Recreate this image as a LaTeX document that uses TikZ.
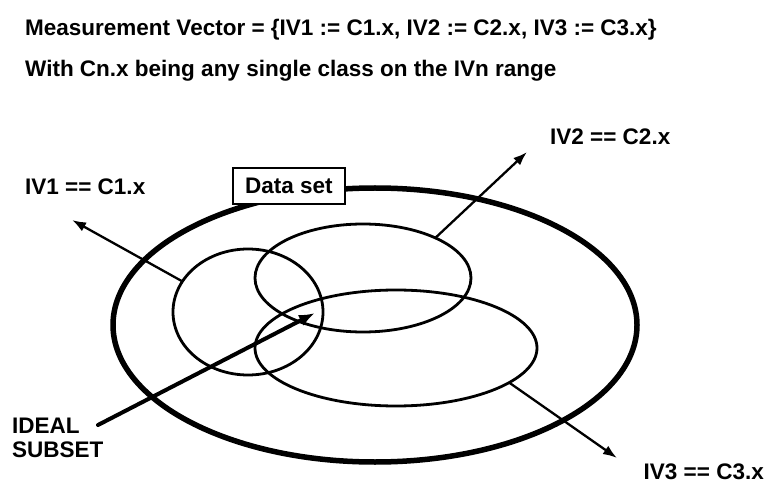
\documentclass[tikz,border=0pt]{standalone}
\usepackage{fontspec}
\setmainfont{Liberation Sans}
\usetikzlibrary{shapes.geometric,arrows.meta}
\begin{document}
\begin{tikzpicture}[x=1pt,y=-1pt,
  bigfont/.style={font=\fontsize{22.5}{26}\selectfont\bfseries},
  txt/.style={bigfont, inner sep=0pt, anchor=west},
  setell/.style={ellipse, draw, line width=2.8pt, inner sep=0pt, outer sep=0pt},
  arr/.style={line width=2.3pt, -{Latex[length=14pt,width=10pt]}}]
\useasboundingbox (0,0) rectangle (768,486);
% title texts
\node[txt] (t1) at (25,30) {Measurement Vector = \{IV1 := C1.x, IV2 := C2.x, IV3 := C3.x\}};
\node[txt] (t2) at (25,71) {With Cn.x being any single class on the IVn range};
% data set ellipse
\node[ellipse, draw, line width=5.5pt, inner sep=0pt, outer sep=0pt,
      minimum width=524pt, minimum height=274pt] (ds) at (375,325) {};
\node[draw, fill=white, line width=2pt, minimum width=112pt, minimum height=36pt,
      inner sep=0pt, bigfont] (dsl) at (289,186) {Data set};
% subsets
\node[setell, minimum width=150pt, minimum height=126pt] (c1) at (248,312) {};
\node[setell, minimum width=216pt, minimum height=108pt] (c2) at (363,278) {};
\node[setell, minimum width=282pt, minimum height=116pt] (c3) at (396,348) {};
% labels
\node[txt] (l1) at (25,187) {IV1 == C1.x};
\node[txt] (l2) at (550,137) {IV2 == C2.x};
\node[txt, anchor=east] (l3) at (764,472) {IV3 == C3.x};
\node[txt, align=left, anchor=north west, font=\fontsize{22.5}{24}\selectfont\bfseries] (ideal) at (12,418) {IDEAL\\SUBSET};
% arrow endpoints
\coordinate (p1) at (72,220);
\coordinate (p2) at (527,152);
\coordinate (p3) at (617,458);
\coordinate (is0) at (98,425);
\coordinate (is1) at (315,313);
% arrows
\draw[arr] (c1.155) -- (p1);
\draw[arr] (c2.29) -- (p2);
\draw[arr] (c3.-17.7) -- (p3);
\draw[line width=4pt, -{Latex[length=16pt,width=12pt]}, line cap=round] (is0) -- (is1);
\end{tikzpicture}
\end{document}
